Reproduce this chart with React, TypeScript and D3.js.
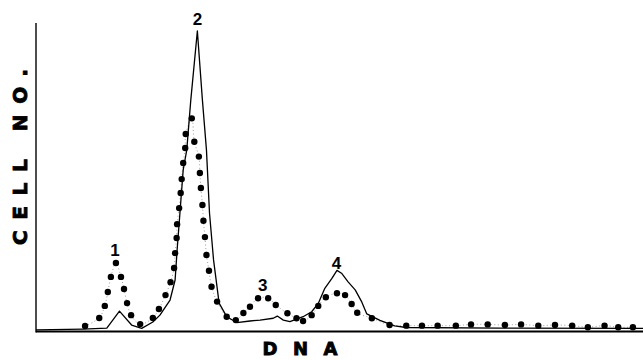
import React, { useEffect, useRef } from "react";
import * as d3 from "d3";

// dotted curve (filled circles), x = DNA channel, y = relative cell number
const dotX = [
  9.7, 12.5, 13.6, 14.2, 14.8, 15.8, 16.8, 17.4, 18.0, 18.8, 20.6, 23.1, 24.3,
  25.6, 26.6, 27.3, 27.5, 27.8, 27.9, 28.3, 28.6, 28.8, 29.1, 29.5, 29.6, 30.8,
  31.3, 32.2, 32.4, 32.6, 32.9, 33.1, 33.4, 33.7, 34.2, 34.7, 35.8, 37.7, 39.5,
  41.0, 42.3, 43.9, 45.9, 47.4, 49.7, 51.5, 52.8, 54.5, 55.8, 57.3, 59.5, 61.1,
  62.4, 63.5, 66.4, 69.9, 73.2, 76.3, 79.4, 83.0, 86.0, 89.3, 92.7, 95.9, 99.3,
  102.6, 106.0, 109.1, 112.4, 115.1, 118.0,
];
const dotY = [
  1.8, 4.4, 8.3, 12.8, 17.7, 22.2, 17.7, 13.8, 9.2, 5.3, 2.4, 4.4, 7.3,
  11.8, 16.0, 20.6, 25.4, 30.3, 34.8, 40.0, 44.9, 49.4, 54.6, 59.5, 64.0, 69.1,
  61.5, 56.7, 51.4, 46.5, 41.0, 35.9, 30.6, 24.8, 19.7, 14.5, 9.7, 4.8, 3.7,
  6.0, 8.0, 10.8, 10.8, 8.6, 5.9, 4.3, 3.4, 5.3, 8.3, 11.1, 12.4, 11.8,
  8.9, 6.1, 4.3, 2.1, 1.9, 1.9, 1.9, 1.9, 2.3, 2.3, 2.1, 2.3, 1.9,
  2.1, 1.9, 1.4, 1.9, 1.4, 1.4,
];

// solid curve
const lineX = [
  0, 9.3, 14.0, 16.5, 18.9, 20.9, 23.1, 24.5, 26.5, 27.5, 27.9, 28.5, 29.1,
  29.8, 30.6, 31.9, 32.9, 33.7, 34.3, 35.1, 36.2, 37.7, 39.7, 42.3, 44.3, 46.9,
  47.7, 48.9, 50.2, 51.5, 52.8, 54.5, 55.8, 57.1, 58.5, 59.5, 60.4, 61.7, 63.1,
  64.4, 65.4, 68.0, 70.9, 73.2, 91.7, 120,
];
const lineY = [
  0.5, 0.8, 1.1, 6.6, 2.1, 1.0, 3.1, 5.3, 10.2, 16.7, 26.4, 39.4, 52.4,
  58.8, 75.0, 97.4, 75.0, 58.8, 38.4, 23.2, 9.2, 4.8, 2.9, 3.4, 3.7, 4.3,
  5.0, 3.7, 3.2, 4.0, 4.8, 6.4, 9.1, 14.0, 17.2, 19.8, 18.9, 16.1, 13.5,
  9.6, 5.7, 3.6, 1.8, 1.3, 1.1, 1.0,
];

const peakNames = ["1", "2", "3", "4"];
const peakX = [15.6, 31.9, 44.8, 59.4];
const peakY = [26.4, 101.3, 15.1, 22.4];

const W = 643;
const H = 360;

export default function App() {
  const ref = useRef<SVGSVGElement>(null);

  useEffect(() => {
    const svg = d3.select(ref.current);
    svg.selectAll("*").remove();

    const x = d3.scaleLinear().domain([0, 120]).range([36, 643]);
    const y = d3.scaleLinear().domain([0, 100]).range([331.5, 23]);

    const g = svg.append("g");

    // axes
    g.append("line")
      .attr("x1", x(0)).attr("x2", x(0))
      .attr("y1", y(0) + 1).attr("y2", y(100))
      .attr("stroke", "#000").attr("stroke-width", 1.4);
    g.append("line")
      .attr("x1", x(0)).attr("x2", x(120))
      .attr("y1", y(0)).attr("y2", y(0))
      .attr("stroke", "#000").attr("stroke-width", 2);

    const dots = dotX.map((v, i) => [v, dotY[i]] as [number, number]);
    const pts = lineX.map((v, i) => [v, lineY[i]] as [number, number]);

    const line = d3.line<[number, number]>()
      .x((d) => x(d[0]))
      .y((d) => y(d[1]));

    // faint dotted trace joining the dots
    g.append("path")
      .attr("d", line.curve(d3.curveCatmullRom)(dots))
      .attr("fill", "none")
      .attr("stroke", "#888")
      .attr("stroke-width", 0.8)
      .attr("stroke-dasharray", "1,2.5");

    g.append("path")
      .attr("d", line.curve(d3.curveLinear)(pts))
      .attr("fill", "none")
      .attr("stroke", "#000")
      .attr("stroke-width", 1.3)
      .attr("stroke-linejoin", "round");

    g.selectAll("circle.dot")
      .data(dots)
      .join("circle")
      .attr("class", "dot")
      .attr("cx", (d) => x(d[0]))
      .attr("cy", (d) => y(d[1]))
      .attr("r", 3.2)
      .attr("fill", "#000");

    // peak numbers
    g.selectAll("text.peak")
      .data(peakNames)
      .join("text")
      .attr("class", "peak")
      .attr("x", (_, i) => x(peakX[i]))
      .attr("y", (_, i) => y(peakY[i]))
      .attr("dy", "0.36em")
      .attr("text-anchor", "middle")
      .attr("font-family", "'Liberation Sans Narrow', 'Liberation Sans', sans-serif")
      .attr("font-weight", "bold")
      .attr("font-size", 17)
      .text((d) => d);

    // axis titles
    g.append("text")
      .attr("transform", "translate(27,157) rotate(-90)")
      .attr("text-anchor", "middle")
      .attr("font-family", "'DejaVu Sans', sans-serif")
      .attr("font-weight", "bold")
      .attr("font-size", 20)
      .attr("stroke", "#000")
      .attr("stroke-width", 0.9)
      .attr("textLength", 176)
      .attr("lengthAdjust", "spacing")
      .text("CELL NO.");

    g.append("text")
      .attr("x", 300)
      .attr("y", 355)
      .attr("text-anchor", "middle")
      .attr("font-family", "'DejaVu Sans', sans-serif")
      .attr("font-weight", "bold")
      .attr("font-size", 18)
      .attr("stroke", "#000")
      .attr("stroke-width", 0.9)
      .attr("textLength", 75)
      .attr("lengthAdjust", "spacing")
      .text("DNA");
  }, []);

  return (
    <div style={{ position: "fixed", left: 0, top: 0, width: W, height: H, background: "#fff" }}>
      <svg ref={ref} width={W} height={H}></svg>
    </div>
  );
}
